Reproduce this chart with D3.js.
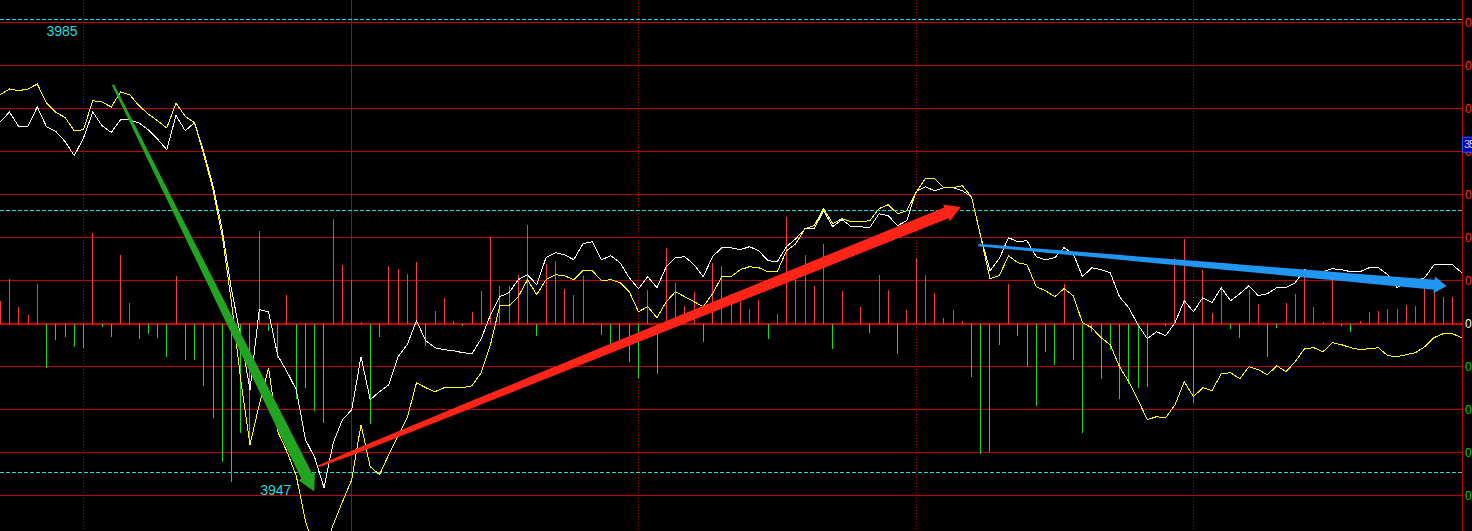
<!DOCTYPE html>
<html><head><meta charset="utf-8">
<script src="https://cdn.jsdelivr.net/npm/d3@7"></script>
<style>html,body{margin:0;padding:0;background:#000;overflow:hidden}</style>
</head><body><svg id="c" width="1472" height="531"></svg>
<script>
// ---- data ----
const whitePrice = [3980.17,3981.17,3979.70,3979.73,3981.67,3979.70,3979.23,3978.23,3976.80,3978.57,
3981.17,3979.80,3979.13,3980.40,3980.40,3980.07,3979.40,3978.47,3977.40,3980.83,
3979.30,3980.10,3977.20,3973.80,3969.40,3963.40,3958.70,3953.40,3961.40,3961.20,
3956.80,3955.20,3953.40,3948.40,3946.60,3943.60,3948.10,3950.40,3951.40,3956.70,
3952.40,3953.20,3953.90,3956.70,3957.90,3960.30,3958.30,3957.60,3957.40,3957.30,
3957.10,3957.00,3958.50,3960.90,3962.70,3963.10,3964.40,3964.90,3963.90,3966.60,
3967.10,3966.90,3966.40,3968.00,3968.20,3966.40,3966.80,3966.10,3964.60,3963.50,
3964.70,3963.60,3965.70,3966.60,3966.70,3965.90,3964.70,3966.70,3967.60,3967.60,
3967.40,3967.70,3967.30,3966.30,3966.20,3967.70,3968.50,3969.50,3969.50,3971.30,
3969.70,3970.40,3969.70,3969.70,3969.60,3971.00,3970.80,3969.80,3970.30,3973.20,
3973.70,3973.30,3973.60,3973.60,3973.30,3972.70,3968.70,3965.30,3966.50,3968.60,
3968.20,3968.30,3966.70,3966.40,3966.60,3967.60,3967.00,3964.70,3965.60,3965.40,
3965.10,3962.70,3961.60,3959.90,3958.50,3959.20,3958.80,3960.10,3962.30,3961.20,
3962.60,3962.10,3963.60,3962.30,3963.00,3963.80,3962.80,3963.00,3963.60,3963.60,
3964.10,3965.40,3965.20,3965.20,3965.50,3965.40,3965.20,3965.20,3965.60,3965.60,
3964.90,3963.60,3964.10,3964.30,3964.60,3965.90,3965.90,3965.90,3965.10];

const yellowPrice = [3982.90,3983.47,3983.30,3983.47,3983.97,3982.07,3981.13,3980.63,3979.30,3979.40,
3982.30,3982.17,3981.67,3983.17,3982.90,3981.80,3980.97,3980.30,3979.57,3982.07,
3980.73,3980.10,3976.90,3973.40,3968.80,3962.10,3954.40,3947.90,3951.90,3955.60,
3949.20,3947.20,3944.80,3940.20,3937.60,3937.40,3939.90,3942.20,3944.40,3949.90,
3945.70,3944.90,3946.90,3948.80,3950.60,3954.10,3953.60,3953.20,3953.60,3953.60,
3953.60,3953.80,3955.10,3957.90,3961.80,3961.80,3962.70,3964.40,3962.90,3964.40,
3964.90,3964.80,3964.40,3965.30,3965.30,3964.30,3964.40,3964.10,3963.20,3961.20,
3961.70,3960.60,3962.20,3963.20,3962.70,3962.20,3961.70,3963.00,3964.70,3964.70,
3965.40,3965.70,3965.60,3965.20,3965.20,3967.30,3968.00,3969.50,3969.80,3971.50,
3970.00,3970.50,3970.20,3970.20,3970.30,3971.50,3971.90,3971.00,3971.30,3973.10,
3974.50,3974.50,3973.60,3973.60,3973.80,3972.70,3968.70,3964.50,3964.80,3966.80,
3966.10,3965.90,3963.70,3963.30,3962.70,3963.50,3962.80,3960.10,3959.60,3958.60,
3957.90,3955.70,3954.20,3952.40,3950.40,3950.70,3950.60,3951.90,3954.20,3952.70,
3953.60,3953.30,3955.00,3955.10,3954.50,3955.70,3955.40,3954.90,3955.80,3955.20,
3956.20,3957.50,3957.60,3957.20,3958.10,3957.90,3957.60,3957.40,3957.50,3957.60,
3956.80,3956.70,3956.90,3957.10,3957.70,3958.60,3959.00,3959.00,3958.60];

const barValues = [227,447,167,87,397,-440,-160,-130,-230,-243,
907,-30,-130,687,207,-150,-100,-140,-330,477,
-360,-360,-620,-940,-1380,-1580,-1090,-1217,927,-70,
-347,287,-750,-647,-870,-990,1047,587,437,15,
-1003,-137,580,550,497,620,-220,127,257,27,
-20,117,330,867,380,380,487,990,-120,597,
627,347,287,477,-10,-113,-223,-163,-380,-540,
337,-507,753,403,177,317,-180,610,577,295,
248,147,237,-157,97,1070,460,687,377,797,
-257,327,0,170,-97,487,337,-307,137,655,
487,310,60,137,27,-530,-1307,-1280,-213,397,
-123,-430,-823,-280,-413,397,-363,-1090,-80,-550,
-260,-750,-600,-640,-630,0,-25,653,847,-797,
537,110,353,-57,-140,337,197,-330,-47,210,
297,503,163,20,453,-23,-80,27,120,130,
147,147,187,177,353,337,270,270,-10];

const basePrice = 3960;
const gridStep = 4.3;
const gridSteps = [7,6,5,4,3,2,1,0,-1,-2,-3,-4];
const tickLabels = ["0.76%","0.65%","0.54%","0.43%","0.33%","0.22%","0.11%","0.00%","0.11%","0.22%","0.33%","0.43%"];
const dashedLevels = [3990.47, 3971.37, 3945.10];
const timeMarks = [9, 69, 99, 129];
const sessionMarks = [38];
const extremeLabels = [{text:"3985", at:5, level:0, dy:17}, {text:"3947", at:28.1, level:2, dy:22}];
const priceTag = {text:"3550", step:4};
const arrows = [
  {from:[12.19,3983.90], to:[33.95,3943.23], color:"#22a322", w0:1.2, w1:6.0, p:1.0, hl:17, hw:9.2},
  {from:[34.40,3945.73], to:[103.84,3971.67], color:"#ff2418", w0:1.0, w1:5.8, p:0.5, hl:15.5, hw:9.0},
  {from:[105.74,3967.87], to:[156.37,3963.78], color:"#2196f0", w0:1.2, w1:5.0, p:1.0, hl:12.5, hw:8.4}
];

// ---- scales ----
const W = 1472, H = 531, axisX = 1462;
const n = whitePrice.length;
const x = d3.scaleLinear().domain([0, n - 1]).range([0.25, 1461.75]);
const y = d3.scaleLinear().domain([basePrice, basePrice + 10]).range([323.7, 223.7]);
const y0 = y(basePrice);
const barY = d3.scaleLinear().domain([0, 1000]).range([y0, y0 - 100]);
const crisp = v => Math.floor(v) + 0.5;

const svg = d3.select("#c");
svg.append("rect").attr("width", W).attr("height", H).attr("fill", "#000");

// horizontal grid
svg.append("g").selectAll("line").data(gridSteps).join("line")
  .attr("x1", 0).attr("x2", axisX)
  .attr("y1", d => d === 0 ? Math.round(y(basePrice + d * gridStep)) : crisp(y(basePrice + d * gridStep)))
  .attr("y2", d => d === 0 ? Math.round(y(basePrice + d * gridStep)) : crisp(y(basePrice + d * gridStep)))
  .attr("stroke", d => d === 0 ? "#d00000" : "#c00000")
  .attr("stroke-width", d => d === 0 ? 2 : 1)
  .attr("shape-rendering", "crispEdges");

// vertical time marks
svg.append("g").selectAll("line").data(timeMarks).join("line")
  .attr("x1", d => crisp(x(d))).attr("x2", d => crisp(x(d)))
  .attr("y1", 0).attr("y2", H)
  .attr("stroke", "#c00000").attr("stroke-dasharray", "1,2")
  .attr("shape-rendering", "crispEdges");
svg.append("g").selectAll("line").data(sessionMarks).join("line")
  .attr("x1", d => crisp(x(d))).attr("x2", d => crisp(x(d)))
  .attr("y1", 0).attr("y2", H)
  .attr("stroke", "#b40000")
  .attr("shape-rendering", "crispEdges");

// cyan dashed levels
svg.append("g").selectAll("line").data(dashedLevels).join("line")
  .attr("x1", 0).attr("x2", axisX)
  .attr("y1", d => crisp(y(d))).attr("y2", d => crisp(y(d)))
  .attr("stroke", "#19dede").attr("stroke-dasharray", "4,2")
  .attr("shape-rendering", "crispEdges");

// bars
svg.append("g").selectAll("line").data(barValues).join("line")
  .attr("x1", (d, i) => crisp(x(i))).attr("x2", (d, i) => crisp(x(i)))
  .attr("y1", y0).attr("y2", d => barY(d))
  .attr("stroke", d => d >= 0 ? "#ff3a3a" : "#10e010")
  .attr("stroke-width", 1)
  .attr("shape-rendering", "crispEdges");

// right axis
svg.append("line").attr("x1", axisX + 0.5).attr("x2", axisX + 0.5).attr("y1", 0).attr("y2", H)
  .attr("stroke", "#c00000").attr("shape-rendering", "crispEdges");

// price lines
const line = d3.line().x((d, i) => x(i)).y(d => y(d));
svg.append("path").datum(whitePrice).attr("d", line)
  .attr("fill", "none").attr("stroke", "#ffffff").attr("stroke-width", 1)
  .attr("shape-rendering", "crispEdges");
svg.append("path").datum(yellowPrice).attr("d", line)
  .attr("fill", "none").attr("stroke", "#ffff00").attr("stroke-width", 1)
  .attr("shape-rendering", "crispEdges");

// axis labels (cut by window edge like the reference)
svg.append("g").selectAll("text").data(gridSteps).join("text")
  .attr("x", axisX + 3).attr("y", d => y(basePrice + d * gridStep) + 4.5)
  .attr("font-family", "Liberation Sans, Arial, sans-serif").attr("font-size", 12)
  .attr("fill", d => d > 0 ? "#ff3030" : (d === 0 ? "#ffffff" : "#10d010"))
  .text((d, i) => tickLabels[i]);

// price tag box
const tagY = y(basePrice + priceTag.step * gridStep);
svg.append("rect").attr("x", axisX + 0.5).attr("y", tagY - 14.5).attr("width", 12).attr("height", 15)
  .attr("fill", "#0000a8").attr("stroke", "#3a5cff").attr("stroke-width", 1);
svg.append("text").attr("x", axisX + 2).attr("y", tagY - 3.5)
  .attr("font-family", "Liberation Sans, Arial, sans-serif").attr("font-size", 11)
  .attr("letter-spacing", "-1")
  .attr("fill", "#c8d0ff").text(priceTag.text);

// arrows (tapered shaft + head)
function arrowPoly(a) {
  const sx = x(a.from[0]), sy = y(a.from[1]), tx = x(a.to[0]), ty = y(a.to[1]);
  const dx = tx - sx, dy = ty - sy, L = Math.hypot(dx, dy);
  const ux = dx / L, uy = dy / L, nx = -uy, ny = ux;
  const shaft = L - a.hl;
  const ts = d3.range(0, 1.0001, 0.05);
  const wAt = t => a.w0 + (a.w1 - a.w0) * Math.pow(t, a.p);
  const left = ts.map(t => [sx + ux * shaft * t + nx * wAt(t), sy + uy * shaft * t + ny * wAt(t)]);
  const right = ts.map(t => [sx + ux * shaft * t - nx * wAt(t), sy + uy * shaft * t - ny * wAt(t)]).reverse();
  const bx = sx + ux * shaft, by = sy + uy * shaft;
  const head = [[bx + nx * a.hw, by + ny * a.hw], [tx, ty], [bx - nx * a.hw, by - ny * a.hw]];
  return left.concat(head, right);
}
svg.append("g").selectAll("polygon").data(arrows).join("polygon")
  .attr("points", d => arrowPoly(d).map(p => p.join(",")).join(" "))
  .attr("fill", d => d.color);

// extreme labels
svg.append("g").selectAll("text").data(extremeLabels).join("text")
  .attr("x", d => x(d.at)).attr("y", d => y(dashedLevels[d.level]) + d.dy)
  .attr("font-family", "Liberation Sans, Arial, sans-serif").attr("font-size", 14)
  .attr("fill", "#19dede").text(d => d.text);
</script></body></html>
